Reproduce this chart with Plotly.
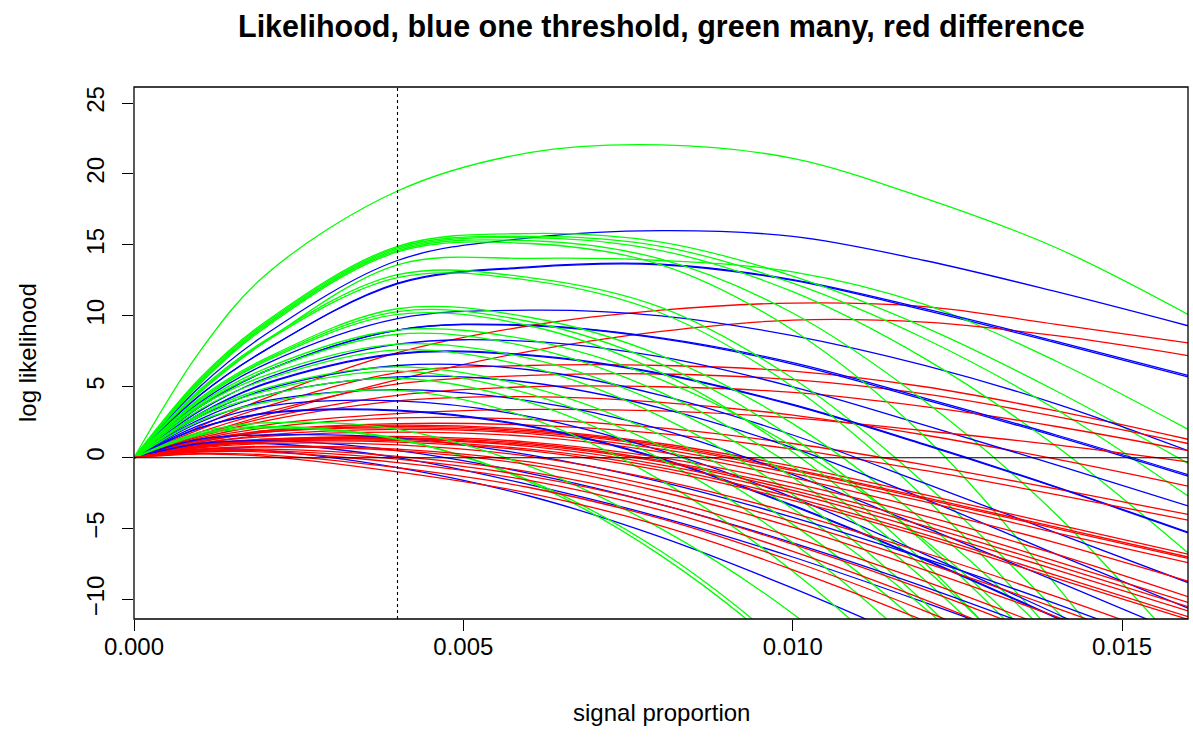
import plotly.graph_objects as go

# signal proportion grid on which each log-likelihood curve is sampled
signal_grid = [0.0, 0.001, 0.002, 0.004, 0.006, 0.008, 0.010, 0.012, 0.014, 0.016]

# one-threshold log-likelihoods
blue_curves = [
    [0, 5.0, 8.7, 13.9, 15.5, 16.0, 15.6, 13.9, 11.7, 9.3],
    [0, 4.4, 7.6, 12.25, 13.4, 13.6, 12.5, 10.4, 8.1, 5.7],
    [0, 4.4, 7.6, 12.3, 13.45, 13.65, 12.55, 10.5, 8.2, 5.8],
    [0, 3.9, 6.6, 9.8, 10.4, 10.0, 8.6, 6.5, 3.8, 0.5],
    [0, 3.6, 6.1, 9.0, 9.3, 8.4, 6.6, 4.1, 1.5, -1.3],
    [0, 3.6, 6.1, 9.0, 9.35, 8.45, 6.7, 4.2, 1.6, -1.2],
    [0, 3.3, 5.6, 8.0, 8.2, 7.1, 5.0, 2.3, -0.5, -3.4],
    [0, 3.1, 5.2, 7.3, 7.2, 5.9, 3.7, 0.9, -2.1, -5.3],
    [0, 3.1, 5.25, 7.35, 7.25, 5.95, 3.75, 0.95, -2.05, -5.25],
    [0, 2.9, 4.8, 6.5, 6.2, 4.4, 1.6, -1.8, -5.3, -8.8],
    [0, 2.7, 4.4, 5.7, 5.3, 3.5, 0.7, -2.9, -6.8, -10.6],
    [0, 2.5, 4.0, 4.8, 4.0, 2.0, -1.2, -4.9, -8.7, -12.6],
    [0, 2.3, 3.6, 4.0, 2.9, 0.5, -2.8, -6.8, -11.0, -15.3],
    [0, 2.1, 3.1, 3.3, 2.2, -0.1, -3.4, -7.2, -11.3, -15.5],
    [0, 2.1, 3.15, 3.35, 2.25, -0.05, -3.35, -7.15, -11.25, -15.45],
    [0, 0.9, 1.0, 0.0, -1.9, -4.2, -7.0, -10.2, -13.6, -17.2],
    [0, 0.6, 0.5, -0.7, -2.7, -5.6, -9.2, -13.2, -17.5, -22.0],
    [0, 1.3, 1.6, 1.4, 0.2, -1.7, -4.2, -7.1, -10.3, -13.8],
    [0, 1.0, 1.2, 0.5, -1.1, -3.3, -6.0, -9.1, -12.5, -16.1],
]

# many-threshold log-likelihoods
green_curves = [
    [0, 7.5, 12.9, 18.8, 21.5, 22.05, 21.1, 18.3, 14.8, 10.1],
    [0, 4.6, 8.2, 13.6, 14.05, 13.9, 13.1, 10.8, 6.8, 2.0],
    [0, 5.6, 9.6, 14.9, 15.8, 15.2, 12.8, 9.2, 4.7, -0.4],
    [0, 5.5, 9.5, 14.8, 15.6, 14.9, 12.3, 8.4, 3.4, -2.7],
    [0, 5.4, 9.4, 14.7, 15.5, 14.6, 11.7, 7.0, 0.8, -6.7],
    [0, 5.3, 9.3, 14.6, 15.3, 14.0, 10.2, 4.0, -4.0, -14.0],
    [0, 5.2, 9.2, 14.5, 15.1, 13.6, 9.0, 1.5, -9.0, -21.0],
    [0, 4.8, 8.3, 12.9, 12.7, 10.6, 5.6, -1.8, -10.8, -21.0],
    [0, 4.7, 8.2, 12.7, 12.5, 10.2, 5.0, -2.8, -12.6, -23.5],
    [0, 4.2, 7.0, 10.5, 9.9, 7.2, 2.4, -4.5, -13.0, -23.0],
    [0, 4.1, 6.9, 10.3, 9.6, 6.6, 1.4, -6.0, -15.2, -26.0],
    [0, 4.0, 6.8, 10.1, 9.3, 6.0, 0.4, -7.4, -17.5, -29.0],
    [0, 3.8, 6.3, 9.0, 8.3, 5.5, 0.8, -5.8, -14.4, -25.0],
    [0, 3.7, 6.1, 8.7, 7.8, 4.6, -0.6, -7.8, -17.0, -28.0],
    [0, 3.6, 5.8, 8.0, 7.0, 3.8, -1.4, -8.6, -17.8, -29.0],
    [0, 3.4, 5.5, 7.6, 6.4, 2.9, -2.6, -10.2, -20.0, -32.0],
    [0, 3.1, 4.9, 6.4, 5.0, 1.6, -3.6, -10.6, -19.5, -30.0],
    [0, 3.0, 4.7, 6.1, 4.5, 0.8, -4.7, -12.0, -21.3, -32.0],
    [0, 2.9, 4.4, 5.6, 3.9, -0.1, -6.0, -13.8, -23.5, -35.0],
    [0, 2.6, 3.9, 4.75, 2.8, -1.6, -8.0, -16.3, -26.5, -38.0],
    [0, 1.7, 2.2, 1.35, -1.7, -6.9, -14.2, -24.0, -36.0, -50.0],
    [0, 1.6, 2.1, 1.3, -1.6, -6.6, -13.8, -23.0, -35.0, -48.0],
    [0, 1.8, 2.45, 2.0, -0.6, -5.0, -11.0, -19.0, -29.0, -41.0],
]

# difference between the two log-likelihoods
red_curves = [
    [0, 2.2, 4.2, 7.4, 9.3, 10.4, 10.9, 10.65, 9.4, 8.1],
    [0, 1.6, 3.0, 5.5, 7.5, 8.9, 9.7, 9.55, 8.6, 7.2],
    [0, 2.0, 3.6, 6.0, 6.5, 6.5, 6.1, 5.0, 3.3, 1.3],
    [0, 1.8, 3.2, 5.2, 5.8, 5.9, 5.5, 4.5, 2.9, 1.0],
    [0, 1.6, 2.8, 4.4, 5.0, 5.0, 4.6, 3.6, 2.2, 0.5],
    [0, 1.5, 2.6, 4.0, 4.3, 3.9, 3.0, 1.6, -0.1, -2.0],
    [0, 1.4, 2.3, 3.1, 3.4, 3.3, 2.8, 1.9, 0.9, -0.3],
    [0, 1.3, 2.1, 2.8, 2.7, 2.1, 1.0, -0.5, -2.2, -4.0],
    [0, 1.2, 1.9, 2.4, 2.3, 1.7, 0.6, -0.9, -2.6, -4.4],
    [0, 1.2, 1.9, 2.3, 2.0, 1.0, -0.6, -2.6, -4.7, -6.8],
    [0, 1.1, 1.8, 2.2, 1.9, 0.9, -0.8, -2.8, -4.9, -7.0],
    [0, 1.1, 1.8, 2.1, 1.8, 0.8, -0.9, -2.9, -5.0, -7.1],
    [0, 1.0, 1.6, 2.0, 1.7, 0.6, -1.1, -3.1, -5.3, -7.4],
    [0, 1.0, 1.5, 1.8, 1.5, 0.4, -1.4, -3.6, -6.0, -8.7],
    [0, 0.9, 1.3, 1.5, 1.1, 0.0, -1.8, -4.1, -6.8, -9.8],
    [0, 0.9, 1.3, 1.4, 1.0, -0.2, -2.1, -4.5, -7.3, -10.2],
    [0, 0.85, 1.25, 1.35, 0.9, -0.3, -2.3, -4.8, -7.6, -10.5],
    [0, 0.8, 1.2, 1.3, 0.8, -0.5, -2.5, -5.1, -7.9, -10.8],
    [0, 0.8, 1.15, 1.2, 0.6, -0.7, -2.8, -5.4, -8.3, -11.2],
    [0, 0.75, 1.1, 1.1, 0.5, -0.9, -3.0, -5.6, -8.5, -11.4],
    [0, 0.7, 1.0, 0.9, 0.1, -1.6, -3.9, -6.7, -9.8, -13.1],
    [0, 0.6, 0.8, 0.6, -0.3, -2.1, -4.5, -7.4, -10.6, -14.0],
    [0, 0.55, 0.75, 0.5, -0.5, -2.4, -4.9, -7.9, -11.2, -14.7],
    [0, 0.5, 0.6, 0.1, -1.0, -2.9, -5.6, -8.7, -12.2, -16.0],
    [0, 0.45, 0.5, -0.1, -1.3, -3.3, -6.1, -9.3, -12.9, -16.8],
    [0, 0.4, 0.4, -0.35, -1.6, -3.7, -6.6, -10.0, -13.8, -17.8],
    [0, 0.3, 0.2, -0.7, -2.1, -4.3, -7.3, -10.8, -14.7, -19.0],
    [0, 0.25, 0.1, -1.0, -2.5, -4.8, -7.9, -11.5, -15.5, -20.0],
]

x_ticks = [0.000, 0.005, 0.010, 0.015]
y_ticks = [-10, -5, 0, 5, 10, 15, 20, 25]
y_tick_text = ["\u221210", "\u22125", "0", "5", "10", "15", "20", "25"]
threshold_marker = 0.004

W, H = 1193, 748
M_L, M_R, M_T, M_B = 134, 5, 87, 129
plot_w = W - M_L - M_R
plot_h = H - M_T - M_B

FONT = "Liberation Sans, Arial, Helvetica, sans-serif"
LABEL_SIZE = 24
TITLE_SIZE = 30.5

fig = go.Figure()

def add_curve(values, colour):
    fig.add_trace(go.Scatter(
        x=signal_grid, y=values, mode="lines",
        line=dict(color=colour, width=1.3, shape="spline", smoothing=1.0),
        hoverinfo="skip", showlegend=False,
    ))

n = max(len(blue_curves), len(green_curves), len(red_curves))
for i in range(n):
    if i < len(blue_curves):
        add_curve(blue_curves[i], "#0000FF")
    if i < len(green_curves):
        add_curve(green_curves[i], "#00FF00")
    if i < len(red_curves):
        add_curve(red_curves[i], "#FF0000")

shapes = [
    # zero reference line
    dict(type="line", xref="paper", yref="y", x0=0, x1=1, y0=0, y1=0,
         line=dict(color="black", width=1.1)),
    # dotted marker at the chosen proportion
    dict(type="line", xref="x", yref="paper", x0=threshold_marker, x1=threshold_marker,
         y0=0, y1=1, line=dict(color="black", width=1.1, dash="dot")),
    # frame around the plotting region
    dict(type="rect", xref="paper", yref="paper", x0=0, x1=1, y0=0, y1=1,
         line=dict(color="black", width=1.3), fillcolor="rgba(0,0,0,0)"),
]

annotations = [
    dict(text="<b>Likelihood, blue one threshold, green many, red difference</b>",
         xref="paper", yref="paper", x=0.5, y=1 + (M_T - 26) / plot_h,
         xanchor="center", yanchor="middle", showarrow=False,
         font=dict(family=FONT, size=TITLE_SIZE, color="black")),
    dict(text="signal proportion", xref="paper", yref="paper",
         x=0.5, y=-(712 - (H - M_B)) / plot_h, xanchor="center", yanchor="middle",
         showarrow=False, font=dict(family=FONT, size=LABEL_SIZE, color="black")),
    dict(text="log likelihood", xref="paper", yref="paper",
         x=-(M_L - 27) / plot_w, y=0.5, xanchor="center", yanchor="middle",
         textangle=-90, showarrow=False,
         font=dict(family=FONT, size=LABEL_SIZE, color="black")),
]

fig.update_layout(
    width=W, height=H,
    margin=dict(l=M_L, r=M_R, t=M_T, b=M_B, autoexpand=False),
    paper_bgcolor="white", plot_bgcolor="white",
    font=dict(family=FONT, color="black"),
    shapes=shapes, annotations=annotations,
    xaxis=dict(range=[0, 0.016], tickvals=x_ticks, tickformat=".3f",
               ticks="outside", ticklen=11, tickwidth=1.2, tickcolor="black",
               ticklabelstandoff=-5,
               showgrid=False, zeroline=False, showline=False,
               tickfont=dict(family=FONT, size=LABEL_SIZE, color="black")),
    yaxis=dict(range=[-11.37, 26.13], tickvals=y_ticks, ticktext=y_tick_text,
               ticks="outside", ticklen=11, tickwidth=1.2, tickcolor="black",
               ticklabelstandoff=8,
               tickangle=-90, showgrid=False, zeroline=False, showline=False,
               tickfont=dict(family=FONT, size=LABEL_SIZE, color="black")),
)

fig.write_html("out.html")
